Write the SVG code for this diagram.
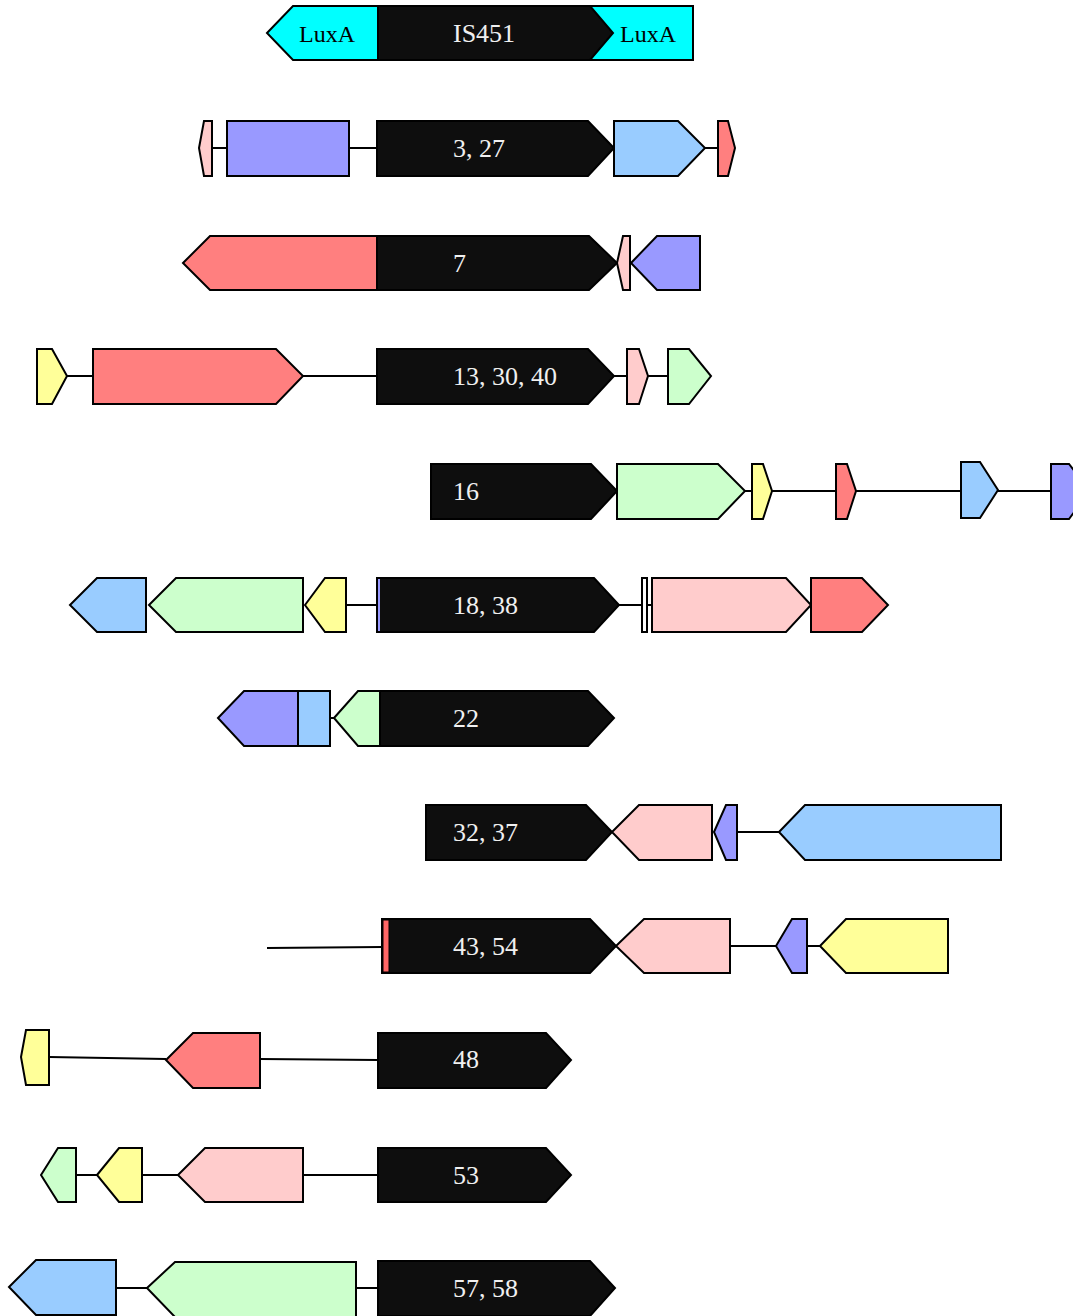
<svg xmlns="http://www.w3.org/2000/svg" width="1073" height="1316" viewBox="0 0 1073 1316">
<style>
.g{stroke:#000;stroke-width:2;stroke-linejoin:miter}
.k{fill:#0e0e0e}.cy{fill:#00FFFF}.pu{fill:#9999FF}.bl{fill:#99CCFF}.rd{fill:#FF7F7F}.pk{fill:#FFCCCC}.gr{fill:#CCFFCC}.ye{fill:#FFFF99}.wh{fill:#fff}
.ln{stroke:#000;stroke-width:2;fill:none}
.lb{font-family:"Liberation Serif","DejaVu Serif",serif;font-size:26px;fill:#f0f0f0}
.lx{font-family:"Liberation Serif","DejaVu Serif",serif;font-size:24px;fill:#000}
</style>
<rect width="1073" height="1316" fill="#fff"/>
<g id="connectors">
<line class="ln" x1="212" y1="148" x2="227" y2="148"/>
<line class="ln" x1="349" y1="148" x2="377" y2="148"/>
<line class="ln" x1="705" y1="148" x2="718" y2="148"/>
<line class="ln" x1="67" y1="376" x2="93" y2="376"/>
<line class="ln" x1="303" y1="376" x2="377" y2="376"/>
<line class="ln" x1="614" y1="376" x2="627" y2="376"/>
<line class="ln" x1="648" y1="376" x2="668" y2="376"/>
<line class="ln" x1="745" y1="491" x2="752" y2="491"/>
<line class="ln" x1="772" y1="491" x2="836" y2="491"/>
<line class="ln" x1="856" y1="491" x2="961" y2="491"/>
<line class="ln" x1="998" y1="491" x2="1051" y2="491"/>
<line class="ln" x1="346" y1="605" x2="377" y2="605"/>
<line class="ln" x1="619" y1="605" x2="652" y2="605"/>
<line class="ln" x1="330" y1="718" x2="334" y2="718"/>
<line class="ln" x1="737" y1="832" x2="779" y2="832"/>
<line class="ln" x1="267" y1="948" x2="382" y2="947"/>
<line class="ln" x1="730" y1="946" x2="776" y2="946"/>
<line class="ln" x1="807" y1="946" x2="820" y2="946"/>
<line class="ln" x1="49" y1="1057" x2="166" y2="1059"/>
<line class="ln" x1="260" y1="1059" x2="378" y2="1060"/>
<line class="ln" x1="76" y1="1175" x2="97" y2="1175"/>
<line class="ln" x1="142" y1="1175" x2="178" y2="1175"/>
<line class="ln" x1="303" y1="1175" x2="378" y2="1175"/>
<line class="ln" x1="116" y1="1288" x2="147" y2="1288"/>
<line class="ln" x1="356" y1="1288" x2="378" y2="1288"/>
</g>
<g id="row1">
<rect class="g cy" x="590" y="6" width="103" height="54"/>
<polygon class="g cy" points="267,33 293,6 378,6 378,60 293,60"/>
<polygon class="g k" points="378,6 590,6 613,33 590,60 378,60"/>
<text class="lx" x="299" y="42">LuxA</text>
<text class="lb" x="453" y="42">IS451</text>
<text class="lx" x="620" y="42">LuxA</text>
</g>
<g id="row2">
<polygon class="g pk" points="199,148 204,121 212,121 212,176 204,176"/>
<rect class="g pu" x="227" y="121" width="122" height="55"/>
<polygon class="g k" points="377,121 588,121 614,148 588,176 377,176"/>
<polygon class="g bl" points="614,121 678,121 705,148 678,176 614,176"/>
<polygon class="g rd" points="718,121 728,121 735,148 728,176 718,176"/>
<text class="lb" x="453" y="157">3, 27</text>
</g>
<g id="row3">
<polygon class="g rd" points="183,263 210,236 377,236 377,290 210,290"/>
<polygon class="g k" points="377,236 589,236 617,263 589,290 377,290"/>
<polygon class="g pk" points="617,263 623,236 630,236 630,290 623,290"/>
<polygon class="g pu" points="631,263 657,236 700,236 700,290 657,290"/>
<text class="lb" x="453" y="272">7</text>
</g>
<g id="row4">
<polygon class="g ye" points="37,349 52,349 67,376 52,404 37,404"/>
<polygon class="g rd" points="93,349 276,349 303,376 276,404 93,404"/>
<polygon class="g k" points="377,349 588,349 614,376 588,404 377,404"/>
<polygon class="g pk" points="627,349 639,349 648,376 639,404 627,404"/>
<polygon class="g gr" points="668,349 689,349 711,376 689,404 668,404"/>
<text class="lb" x="453" y="385">13, 30, 40</text>
</g>
<g id="row5">
<polygon class="g k" points="431,464 591,464 617,491 591,519 431,519"/>
<polygon class="g gr" points="617,464 718,464 745,491 718,519 617,519"/>
<polygon class="g ye" points="752,464 763,464 772,491 763,519 752,519"/>
<polygon class="g rd" points="836,464 847,464 856,491 847,519 836,519"/>
<polygon class="g bl" points="961,462 980,462 998,490 980,518 961,518"/>
<polygon class="g pu" points="1051,464 1069,464 1090,491 1069,519 1051,519"/>
<text class="lb" x="453" y="500">16</text>
</g>
<g id="row6">
<polygon class="g bl" points="70,605 97,578 146,578 146,632 97,632"/>
<polygon class="g gr" points="149,605 176,578 303,578 303,632 176,632"/>
<polygon class="g ye" points="305,605 325,578 346,578 346,632 325,632"/>
<polygon class="g k" points="377,578 594,578 619,605 594,632 377,632"/>
<rect x="378" y="579" width="2" height="52" fill="#9999FF"/>
<rect class="g wh" x="642" y="578" width="5" height="54"/>
<polygon class="g pk" points="652,578 786,578 811,605 786,632 652,632"/>
<polygon class="g rd" points="811,578 862,578 888,605 862,632 811,632"/>
<text class="lb" x="453" y="614">18, 38</text>
</g>
<g id="row7">
<polygon class="g pu" points="218,718 244,691 298,691 298,746 244,746"/>
<rect class="g bl" x="298" y="691" width="32" height="55"/>
<polygon class="g gr" points="334,718 358,691 380,691 380,746 358,746"/>
<polygon class="g k" points="380,691 588,691 614,718 588,746 380,746"/>
<text class="lb" x="453" y="727">22</text>
</g>
<g id="row8">
<polygon class="g k" points="426,805 586,805 612,832 586,860 426,860"/>
<polygon class="g pk" points="612,832 639,805 712,805 712,860 639,860"/>
<polygon class="g pu" points="714,832 726,805 737,805 737,860 726,860"/>
<polygon class="g bl" points="779,832 805,805 1001,805 1001,860 805,860"/>
<text class="lb" x="453" y="841">32, 37</text>
</g>
<g id="row9">
<polygon class="g k" points="382,919 590,919 616,946 590,973 382,973"/>
<rect x="383" y="920" width="6" height="52" fill="#FF6666" stroke="#000" stroke-width="1"/>
<polygon class="g pk" points="616,946 644,919 730,919 730,973 644,973"/>
<polygon class="g pu" points="776,946 792,919 807,919 807,973 792,973"/>
<polygon class="g ye" points="820,946 846,919 948,919 948,973 846,973"/>
<text class="lb" x="453" y="955">43, 54</text>
</g>
<g id="row10">
<polygon class="g ye" points="21,1057 26,1030 49,1030 49,1085 26,1085"/>
<polygon class="g rd" points="166,1060 193,1033 260,1033 260,1088 193,1088"/>
<polygon class="g k" points="378,1033 546,1033 571,1060 546,1088 378,1088"/>
<text class="lb" x="453" y="1068">48</text>
</g>
<g id="row11">
<polygon class="g gr" points="41,1175 58,1148 76,1148 76,1202 58,1202"/>
<polygon class="g ye" points="97,1175 119,1148 142,1148 142,1202 119,1202"/>
<polygon class="g pk" points="178,1175 205,1148 303,1148 303,1202 205,1202"/>
<polygon class="g k" points="378,1148 546,1148 571,1175 546,1202 378,1202"/>
<text class="lb" x="453" y="1184">53</text>
</g>
<g id="row12">
<polygon class="g bl" points="9,1287 36,1260 116,1260 116,1315 36,1315"/>
<polygon class="g gr" points="147,1288 175,1262 356,1262 356,1317 175,1317"/>
<polygon class="g k" points="378,1261 590,1261 615,1288 590,1316 378,1316"/>
<text class="lb" x="453" y="1297">57, 58</text>
</g>
</svg>
